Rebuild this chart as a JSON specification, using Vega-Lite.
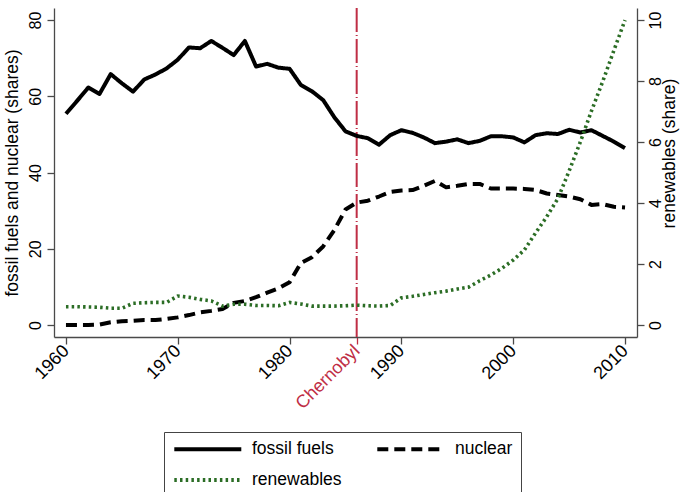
{
  "$schema": "https://vega.github.io/schema/vega-lite/v6.json",
  "width": 583,
  "height": 329,
  "autosize": {"type": "none"},
  "padding": {"left": 54, "top": 8, "right": 45, "bottom": 155},
  "config": {
    "view": {"stroke": null},
    "font": "Liberation Sans",
    "axis": {
      "grid": false,
      "domainColor": "#4a4a4a",
      "domainWidth": 1.3,
      "tickColor": "#4a4a4a",
      "tickWidth": 1.3,
      "tickSize": 7,
      "labelFont": "Liberation Sans",
      "labelFontSize": 16,
      "labelColor": "black",
      "titleFont": "Liberation Sans",
      "titleFontSize": 17.5,
      "titleFontWeight": "normal",
      "titleColor": "black"
    },
    "legend": {
      "title": null,
      "orient": "none",
      "legendX": 110,
      "legendY": 424,
      "direction": "horizontal",
      "columns": 2,
      "symbolType": "M-1,0H9",
      "symbolSize": 179.6,
      "symbolStrokeWidth": 4,
      "labelFont": "Liberation Sans",
      "labelFontSize": 17.5,
      "labelColor": "black",
      "labelOffset": 62,
      "columnPadding": 27,
      "rowPadding": 13,
      "padding": 8,
      "strokeColor": "#444444",
      "fillColor": "white"
    }
  },
  "datasets": {
    "energy": [
      {"year": 1960, "fossil fuels": 55.4, "nuclear": 0.0, "renewables": 0.60},
      {"year": 1961, "fossil fuels": 58.8, "nuclear": 0.0, "renewables": 0.60},
      {"year": 1962, "fossil fuels": 62.3, "nuclear": 0.0, "renewables": 0.59},
      {"year": 1963, "fossil fuels": 60.6, "nuclear": 0.1, "renewables": 0.58},
      {"year": 1964, "fossil fuels": 65.8, "nuclear": 0.7, "renewables": 0.55},
      {"year": 1965, "fossil fuels": 63.4, "nuclear": 1.0, "renewables": 0.55},
      {"year": 1966, "fossil fuels": 61.2, "nuclear": 1.1, "renewables": 0.71},
      {"year": 1967, "fossil fuels": 64.4, "nuclear": 1.3, "renewables": 0.73},
      {"year": 1968, "fossil fuels": 65.7, "nuclear": 1.3, "renewables": 0.74},
      {"year": 1969, "fossil fuels": 67.3, "nuclear": 1.6, "renewables": 0.74},
      {"year": 1970, "fossil fuels": 69.6, "nuclear": 2.0, "renewables": 0.95},
      {"year": 1971, "fossil fuels": 72.8, "nuclear": 2.6, "renewables": 0.91},
      {"year": 1972, "fossil fuels": 72.6, "nuclear": 3.3, "renewables": 0.84},
      {"year": 1973, "fossil fuels": 74.5, "nuclear": 3.7, "renewables": 0.79},
      {"year": 1974, "fossil fuels": 72.7, "nuclear": 4.2, "renewables": 0.62},
      {"year": 1975, "fossil fuels": 70.8, "nuclear": 5.8, "renewables": 0.68},
      {"year": 1976, "fossil fuels": 74.5, "nuclear": 6.3, "renewables": 0.68},
      {"year": 1977, "fossil fuels": 67.8, "nuclear": 7.3, "renewables": 0.64},
      {"year": 1978, "fossil fuels": 68.5, "nuclear": 8.5, "renewables": 0.64},
      {"year": 1979, "fossil fuels": 67.5, "nuclear": 9.6, "renewables": 0.63},
      {"year": 1980, "fossil fuels": 67.2, "nuclear": 11.2, "renewables": 0.74},
      {"year": 1981, "fossil fuels": 63.0, "nuclear": 16.2, "renewables": 0.69},
      {"year": 1982, "fossil fuels": 61.3, "nuclear": 17.8, "renewables": 0.62},
      {"year": 1983, "fossil fuels": 59.0, "nuclear": 20.6, "renewables": 0.62},
      {"year": 1984, "fossil fuels": 54.5, "nuclear": 24.9, "renewables": 0.62},
      {"year": 1985, "fossil fuels": 50.8, "nuclear": 30.3, "renewables": 0.63},
      {"year": 1986, "fossil fuels": 49.6, "nuclear": 32.1, "renewables": 0.65},
      {"year": 1987, "fossil fuels": 49.0, "nuclear": 32.6, "renewables": 0.63},
      {"year": 1988, "fossil fuels": 47.3, "nuclear": 33.7, "renewables": 0.62},
      {"year": 1989, "fossil fuels": 49.8, "nuclear": 34.9, "renewables": 0.64},
      {"year": 1990, "fossil fuels": 51.1, "nuclear": 35.3, "renewables": 0.89},
      {"year": 1991, "fossil fuels": 50.4, "nuclear": 35.4, "renewables": 0.94},
      {"year": 1992, "fossil fuels": 49.2, "nuclear": 36.5, "renewables": 1.00},
      {"year": 1993, "fossil fuels": 47.7, "nuclear": 37.8, "renewables": 1.06},
      {"year": 1994, "fossil fuels": 48.1, "nuclear": 36.1, "renewables": 1.11},
      {"year": 1995, "fossil fuels": 48.7, "nuclear": 36.5, "renewables": 1.18},
      {"year": 1996, "fossil fuels": 47.7, "nuclear": 37.0, "renewables": 1.24},
      {"year": 1997, "fossil fuels": 48.3, "nuclear": 37.0, "renewables": 1.45},
      {"year": 1998, "fossil fuels": 49.5, "nuclear": 35.8, "renewables": 1.64},
      {"year": 1999, "fossil fuels": 49.5, "nuclear": 35.8, "renewables": 1.86},
      {"year": 2000, "fossil fuels": 49.2, "nuclear": 35.8, "renewables": 2.13},
      {"year": 2001, "fossil fuels": 47.9, "nuclear": 35.7, "renewables": 2.46},
      {"year": 2002, "fossil fuels": 49.8, "nuclear": 35.4, "renewables": 3.02},
      {"year": 2003, "fossil fuels": 50.3, "nuclear": 34.5, "renewables": 3.55},
      {"year": 2004, "fossil fuels": 50.1, "nuclear": 34.1, "renewables": 4.15},
      {"year": 2005, "fossil fuels": 51.2, "nuclear": 33.7, "renewables": 5.05},
      {"year": 2006, "fossil fuels": 50.5, "nuclear": 33.0, "renewables": 6.00},
      {"year": 2007, "fossil fuels": 51.1, "nuclear": 31.5, "renewables": 7.02},
      {"year": 2008, "fossil fuels": 49.6, "nuclear": 31.7, "renewables": 7.98},
      {"year": 2009, "fossil fuels": 48.1, "nuclear": 31.0, "renewables": 9.00},
      {"year": 2010, "fossil fuels": 46.4, "nuclear": 30.8, "renewables": 10.00}
    ],
    "events": [
      {"year": 1986, "event": "Chernobyl"}
    ]
  },
  "layer": [
    {
      "data": {"name": "events"},
      "mark": {"type": "rule", "color": "#bf2e45", "strokeWidth": 2, "strokeDash": [24, 3, 1, 3]},
      "encoding": {
        "x": {"field": "year", "type": "quantitative"}
      }
    },
    {
      "data": {"name": "energy"},
      "transform": [{"fold": ["fossil fuels", "nuclear"], "as": ["source", "share"]}],
      "mark": {"type": "line", "strokeWidth": 4, "strokeJoin": "round"},
      "encoding": {
        "x": {
          "field": "year",
          "type": "quantitative",
          "scale": {"domain": [1958.93, 2011.07], "nice": false, "zero": false},
          "axis": {
            "title": null,
            "values": [1960, 1970, 1980, 1986, 1990, 2000, 2010],
            "format": "d",
            "labelExpr": "datum.value == 1986 ? 'Chernobyl' : datum.label",
            "labelFontSize": 18,
            "labelAngle": -45,
            "labelAlign": "right",
            "labelBaseline": "middle",
            "labelPadding": 4,
            "labelOverlap": false,
            "labelFlush": false,
            "labelColor": {"condition": {"test": "datum.value == 1986", "value": "#bf2e45"}, "value": "black"},
            "tickColor": {"condition": {"test": "datum.value == 1986", "value": "#bf2e45"}, "value": "#4a4a4a"}
          }
        },
        "y": {
          "field": "share",
          "type": "quantitative",
          "scale": {"domain": [-3.15, 83.15], "nice": false, "zero": false},
          "axis": {
            "orient": "left",
            "title": "fossil fuels and nuclear (shares)",
            "values": [0, 20, 40, 60, 80],
            "labelAngle": -90,
            "labelAlign": "center",
            "labelBaseline": "alphabetic",
            "labelPadding": 7,
            "titlePadding": 6
          }
        },
        "color": {
          "field": "source",
          "type": "nominal",
          "scale": {"domain": ["fossil fuels", "nuclear", "renewables"], "range": ["black", "black", "#2b6d25"]}
        },
        "strokeDash": {
          "field": "source",
          "type": "nominal",
          "scale": {"domain": ["fossil fuels", "nuclear", "renewables"], "range": [[1, 0], [11, 6], [2.5, 3.2]]}
        }
      }
    },
    {
      "data": {"name": "energy"},
      "transform": [{"fold": ["renewables"], "as": ["source", "share"]}],
      "mark": {"type": "line", "strokeWidth": 3.6},
      "encoding": {
        "x": {"field": "year", "type": "quantitative"},
        "y": {
          "field": "share",
          "type": "quantitative",
          "scale": {"domain": [-0.394, 10.394], "nice": false, "zero": false},
          "axis": {
            "orient": "right",
            "title": "renewables (share)",
            "values": [0, 2, 4, 6, 8, 10],
            "labelAngle": -90,
            "labelAlign": "center",
            "labelBaseline": "top",
            "labelPadding": 3,
            "titleAngle": -90,
            "titleAlign": "center",
            "titleBaseline": "top",
            "titleY": 145,
            "titlePadding": -3
          }
        },
        "color": {"field": "source", "type": "nominal"},
        "strokeDash": {"field": "source", "type": "nominal"}
      }
    }
  ],
  "resolve": {"scale": {"y": "independent"}}
}
